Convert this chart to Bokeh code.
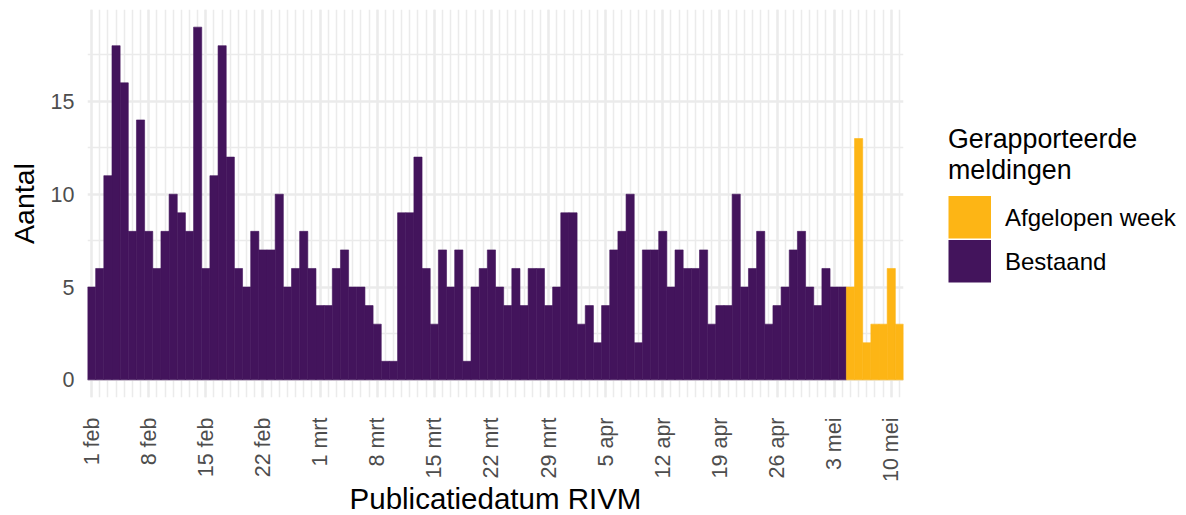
import math
from bokeh.plotting import figure
from bokeh.models import (Range1d, FixedTicker, Legend, LegendItem)
from bokeh.embed import file_html
from bokeh.resources import INLINE

# ---- data -------------------------------------------------------------
# daily reports, 1 feb .. 11 mei (day index 0..99)
counts_existing = [5, 6, 11, 18, 16, 8, 14, 8, 6, 8, 10, 9, 8, 19, 6, 11, 18, 12, 6, 5,
                   8, 7, 7, 10, 5, 6, 8, 6, 4, 4, 6, 7, 5, 5, 4, 3, 1, 1, 9, 9,
                   12, 6, 3, 7, 5, 7, 1, 5, 6, 7, 5, 4, 6, 4, 6, 6, 4, 5, 9, 9,
                   3, 4, 2, 4, 7, 8, 10, 2, 7, 7, 8, 5, 7, 6, 6, 7, 3, 4, 4, 10,
                   5, 6, 8, 3, 4, 5, 7, 8, 5, 4, 6, 5, 5]
counts_lastweek = [5, 13, 2, 3, 3, 6, 3]
tick_labels = ["1 feb", "8 feb", "15 feb", "22 feb", "1 mrt", "8 mrt", "15 mrt",
               "22 mrt", "29 mrt", "5 apr", "12 apr", "19 apr", "26 apr", "3 mei", "10 mei"]
series_names = ["Afgelopen week", "Bestaand"]
series_colors = ["#FDB515", "#43145C"]

n_exist = len(counts_existing)
n_total = n_exist + len(counts_lastweek)
x_exist = list(range(n_exist))
x_last = list(range(n_exist, n_total))
tick_pos = [7 * i for i in range(len(tick_labels))]

FONT = "Liberation Sans"
NAN = float("nan")

p = figure(frame_width=816, frame_height=388, output_backend="svg", toolbar_location=None,
           x_range=Range1d(-0.5, n_total - 0.5), y_range=Range1d(-0.95, 19.95),
           min_border_left=87, min_border_right=0, min_border_top=9, min_border_bottom=0)
p.outline_line_color = None
p.background_fill_color = "white"

r_exist = p.vbar(x=x_exist, top=counts_existing, bottom=0, width=1.0,
                 fill_color=series_colors[1], line_color=series_colors[1], line_width=0.6)
r_last = p.vbar(x=x_last, top=counts_lastweek, bottom=0, width=1.0,
                fill_color=series_colors[0], line_color=series_colors[0], line_width=0.6)

# legend keys: renderers without drawable points, used only for the legend swatches
key_last = p.line(x=[NAN], y=[NAN], line_color=series_colors[0], line_width=43, line_cap="butt")
key_exist = p.line(x=[NAN], y=[NAN], line_color=series_colors[1], line_width=43, line_cap="butt")

# axes
p.xaxis.ticker = FixedTicker(ticks=tick_pos, minor_ticks=list(range(n_total)))
p.xaxis.major_label_overrides = {t: l for t, l in zip(tick_pos, tick_labels)}
p.xaxis.major_label_orientation = math.pi / 2
p.yaxis.ticker = FixedTicker(ticks=[0, 5, 10, 15], minor_ticks=[2.5, 7.5, 12.5, 17.5])

for ax in (p.xaxis, p.yaxis):
    ax.axis_line_color = None
    ax.major_tick_line_color = None
    ax.minor_tick_line_color = None
    ax.major_label_text_color = "#4D4D4D"
    ax.major_label_text_font = FONT
    ax.major_label_text_font_size = "21.5px"
    ax.axis_label_text_font = FONT
    ax.axis_label_text_font_style = "normal"
    ax.axis_label_text_color = "black"

p.xaxis.major_label_standoff = 14
p.xaxis.axis_label_standoff = -3
p.xaxis.axis_label_text_font_size = "29.5px"
p.yaxis.major_label_standoff = 7
p.yaxis.axis_label_standoff = 8
p.yaxis.axis_label_text_font_size = "28.5px"

p.xaxis.axis_label = "Publicatiedatum RIVM"
p.yaxis.axis_label = "Aantal"

# grid
p.xgrid.ticker = p.xaxis.ticker
p.ygrid.ticker = p.yaxis.ticker
p.xgrid.grid_line_color = "#EBEBEB"
p.xgrid.grid_line_width = 2.5
p.xgrid.minor_grid_line_color = "#EBEBEB"
p.xgrid.minor_grid_line_width = 1.5
p.ygrid.grid_line_color = "#EBEBEB"
p.ygrid.grid_line_width = 2.5
p.ygrid.minor_grid_line_color = "#EBEBEB"
p.ygrid.minor_grid_line_width = 1.5

legend = Legend(items=[LegendItem(label=series_names[0], renderers=[key_last]),
                       LegendItem(label=series_names[1], renderers=[key_exist])],
                location="center_left", title="Gerapporteerde\nmeldingen",
                title_text_font=FONT, title_text_font_size="26.8px", title_text_font_style="normal",
                title_text_color="black", title_standoff=10,
                label_text_font=FONT, label_text_font_size="24px", label_text_color="black",
                glyph_width=43, glyph_height=43, spacing=1, label_standoff=14,
                padding=0, margin=45, border_line_color=None, background_fill_alpha=0)
p.add_layout(legend, "right")

open("out.html", "w").write(file_html(p, INLINE))
